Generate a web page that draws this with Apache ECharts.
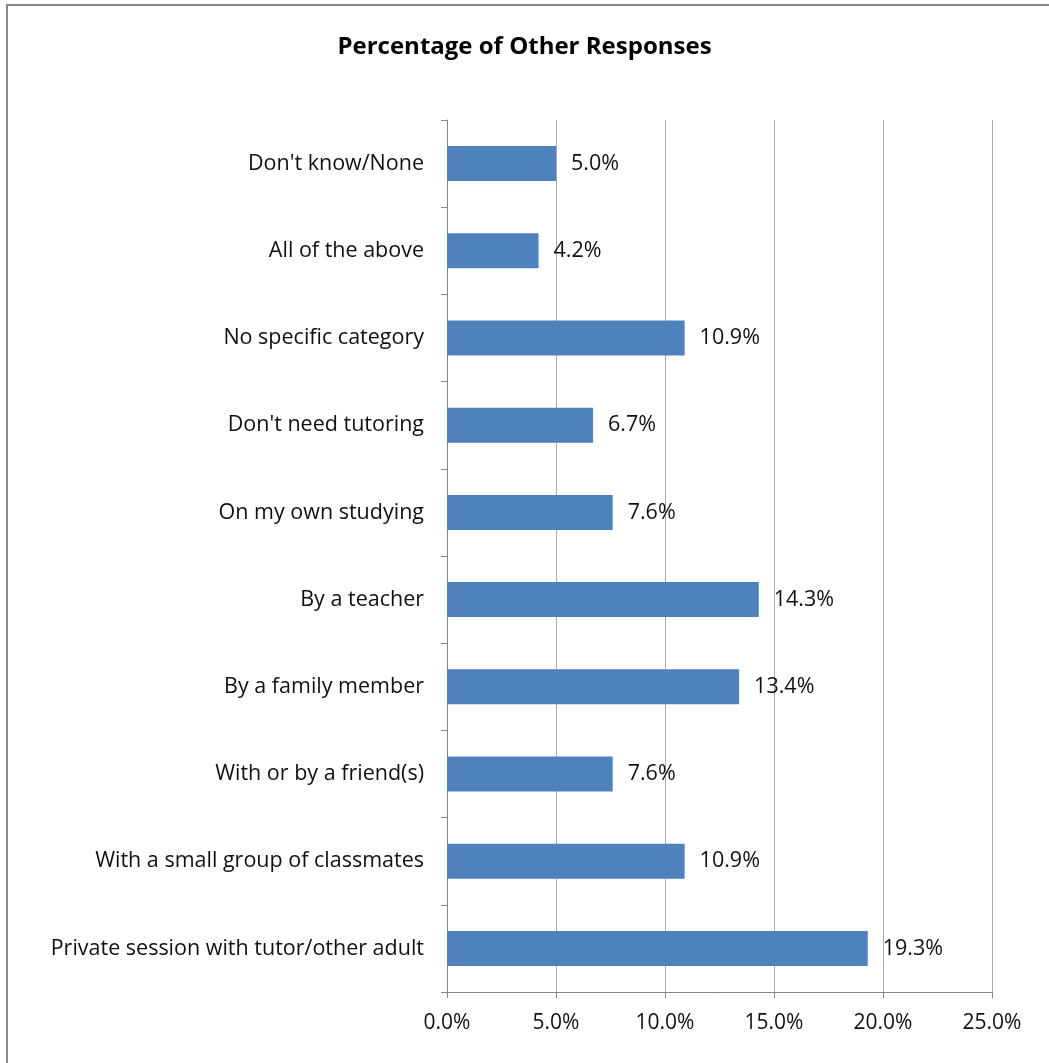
<!DOCTYPE html>
<html>
<head>
<meta charset="utf-8">
<style>
  html, body { margin: 0; padding: 0; background: #fff; }
  #chart { width: 1049px; height: 1063px; }
</style>
<script src="https://cdn.jsdelivr.net/npm/echarts@6/dist/echarts.min.js"></script>
</head>
<body>
<div id="chart"></div>
<script>
// Response categories, listed top to bottom
const categories = [
  "Don't know/None",
  "All of the above",
  "No specific category",
  "Don't need tutoring",
  "On my own studying",
  "By a teacher",
  "By a family member",
  "With or by a friend(s)",
  "With a small group of classmates",
  "Private session with tutor/other adult"
];
// Share of responses, percent
const percentages = [5.0, 4.2, 10.9, 6.7, 7.6, 14.3, 13.4, 7.6, 10.9, 19.3];
// Value axis range
const axisMin = 0;
const axisMax = 25;
const axisStep = 5;

const FONT = '"Open Sans", "Noto Sans", sans-serif';
const chart = echarts.init(document.getElementById('chart'), null, { renderer: 'canvas' });

chart.setOption({
  backgroundColor: '#ffffff',
  animation: false,
  title: {
    text: 'Percentage of Other Responses',
    left: 'center',
    top: 30,
    textStyle: { fontFamily: FONT, fontSize: 24, fontWeight: 'bold', color: '#000' }
  },
  graphic: [{
    type: 'rect',
    shape: { x: 7, y: 5, width: 1100, height: 1100 },
    style: { fill: 'none', stroke: '#8a8a8a', lineWidth: 2 },
    silent: true
  }],
  grid: { left: 447, right: 57, top: 120, bottom: 71, containLabel: false },
  xAxis: {
    type: 'value',
    min: axisMin,
    max: axisMax,
    interval: axisStep,
    axisLine: { show: true, lineStyle: { color: '#868686', width: 1 } },
    axisTick: { show: true, length: 6, lineStyle: { color: '#868686' } },
    splitLine: { show: true, lineStyle: { color: '#ababab', width: 1 } },
    axisLabel: {
      margin: 21,
      fontFamily: FONT,
      fontSize: 21,
      color: '#111',
      formatter: v => v.toFixed(1) + '%'
    }
  },
  yAxis: {
    type: 'category',
    data: categories,
    inverse: true,
    axisLine: { show: true, lineStyle: { color: '#868686', width: 1 } },
    axisTick: { show: true, length: 6, interval: 0, lineStyle: { color: '#868686' } },
    axisLabel: {
      margin: 23,
      fontFamily: FONT,
      fontSize: 21.5,
      color: '#111'
    }
  },
  series: [{
    type: 'bar',
    data: percentages,
    barWidth: 35,
    itemStyle: { color: '#4f81bd' },
    label: {
      show: true,
      position: 'right',
      distance: 15,
      fontFamily: FONT,
      fontSize: 21.5,
      color: '#111',
      formatter: p => p.value.toFixed(1) + '%'
    }
  }]
});
</script>
</body>
</html>
